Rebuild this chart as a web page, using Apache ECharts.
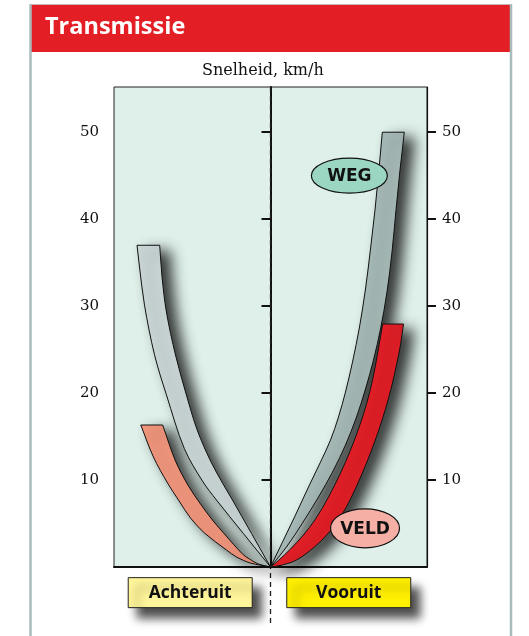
<!DOCTYPE html>
<html>
<head>
<meta charset="utf-8">
<title>Transmissie</title>
<script src="https://cdn.jsdelivr.net/npm/echarts@6/dist/echarts.min.js"></script>
<style>
	html, body { margin: 0; padding: 0; background: #fff; }
	#chart { width: 529px; height: 636px; }
</style>
</head>
<body>
<div id="chart"></div>
<script>
// y = snelheid km/h, x = vrije breedte-as (-100 .. 100), 0 = midden
var yTicks = [10, 20, 30, 40, 50];

// randen van de banden, van de oorsprong naar boven: [x, km/h]
var achteruitWegOuter  = [[0, 0], [-17.3, 3.85], [-34.5, 7.7], [-43.5, 9.9], [-55, 13.6], [-66.5, 19.8], [-74.1, 24.4], [-80.5, 30.1], [-83.7, 34.5], [-85.3, 37]];
var achteruitWegInner  = [[0, 0], [-12.1, 3.85], [-24.3, 7.7], [-30.7, 9.66], [-38.3, 12.19], [-46.6, 15.64], [-53, 19.32], [-60.7, 24.38], [-66.5, 29.32], [-69.3, 33.35], [-70.8, 37]];
var achteruitVeldOuter = [[0, 0], [-12.8, 0.46], [-21.7, 1.15], [-28.1, 1.95], [-42.2, 3.91], [-51.1, 5.63], [-58.8, 7.7], [-65.8, 9.66], [-74.8, 12.65], [-82.9, 16.33]];
var achteruitVeldInner = [[0, 0], [-7.7, 0.34], [-13.4, 0.92], [-17.9, 1.49], [-29.4, 3.79], [-37.1, 5.4], [-44.7, 7.24], [-52.4, 9.31], [-60.7, 12.19], [-68.9, 16.33]];
var vooruitWegInner    = [[0, 0], [7.67, 2.87], [15.97, 5.98], [24.28, 9.2], [31.95, 12.07], [38.34, 14.6], [43.45, 17.25], [47.92, 20.12], [52.4, 23.57], [56.87, 27.6], [60.7, 31.97], [63.9, 36.57], [66.77, 41.05], [69.33, 45.77], [71.44, 50]];
var vooruitWegOuter    = [[0, 0], [10.22, 2.3], [20.45, 5.06], [30.67, 8.05], [39.62, 10.92], [47.92, 14.03], [54.95, 17.25], [60.7, 20.47], [65.81, 23.8], [70.29, 27.37], [74.44, 31.62], [77.64, 36.22], [80.19, 41.05], [82.75, 45.65], [85.5, 50]];
var vooruitVeldInner   = [[0, 0], [5.11, 0.75], [12.78, 2.07], [20.45, 3.56], [28.75, 5.52], [37.06, 8.05], [44.73, 10.81], [51.12, 13.45], [56.87, 16.21], [61.34, 18.74], [65.18, 21.5], [68.37, 24.49], [71.69, 27.94]];
var vooruitVeldOuter   = [[0, 0], [7.67, 0.23], [16.61, 0.8], [28.12, 2.3], [37.06, 3.91], [44.73, 5.75], [51.76, 8.05], [58.15, 10.58], [63.9, 13.11], [69.01, 15.64], [73.48, 18.17], [77.32, 20.7], [80.51, 23.23], [83.07, 25.53], [84.98, 27.94]];

var centerLine = [[0, 55.2], [0, -6.6]];

var ovalLabels = ['WEG', 'VELD'];
var ovalPos    = [[50.4, 45], [60.4, 4.45]];

var boxLabels = ['Achteruit', 'Vooruit'];
var boxPos    = [[-51.3, -2.95], [50, -2.95]];

(function(){

	var chart = echarts.init(document.getElementById('chart'));

	function dist(a, b){
		return Math.sqrt((a[0] - b[0]) * (a[0] - b[0]) + (a[1] - b[1]) * (a[1] - b[1]));
	}

	// vloeiende lijn door de gelezen punten (raaklijnen naar koordelengte)
	function curve(p){
		var d = '';
		for (var i = 0; i < p.length - 1; i++) {
			var p0 = p[i - 1] || p[i], p1 = p[i], p2 = p[i + 1], p3 = p[i + 2] || p[i + 1];
			var d01 = dist(p0, p1), d12 = dist(p1, p2), d23 = dist(p2, p3);
			var k1 = d12 / (d01 + d12) / 3, k2 = d12 / (d12 + d23) / 3;
			d += ' C' + (p1[0] + (p2[0] - p0[0]) * k1) + ',' + (p1[1] + (p2[1] - p0[1]) * k1)
				+ ' ' + (p2[0] - (p3[0] - p1[0]) * k2) + ',' + (p2[1] - (p3[1] - p1[1]) * k2)
				+ ' ' + p2[0] + ',' + p2[1];
		}
		return d;
	}

	function band(outer, inner, color){
		return {
			type: 'custom',
			silent: true,
			data: [[0, 0]],
			renderItem: function(params, api){
				var o = outer.map(function(v){ return api.coord(v); });
				var n = inner.slice().reverse().map(function(v){ return api.coord(v); });
				var d = 'M' + o[0][0] + ',' + o[0][1] + curve(o)
					+ ' L' + n[0][0] + ',' + n[0][1] + curve(n) + ' Z';
				return {
					type: 'path',
					shape: { pathData: d },
					style: {
						fill: color,
						stroke: '#111',
						lineWidth: 1,
						shadowBlur: 14,
						shadowColor: 'rgba(0,0,0,0.78)',
						shadowOffsetX: 10,
						shadowOffsetY: 6
					}
				};
			}
		};
	}

	var ovalStyle = [
		{ rx: 38, ry: 17.5, fill: '#9bd6c2' },
		{ rx: 34.5, ry: 19.5, fill: '#f6afa5' }
	];
	var boxFill = ['#fff59a', '#fff000'];

	function yAxis(pos, lineWidth){
		return {
			type: 'value',
			position: pos,
			min: 0,
			max: 55.2,
			interval: 10,
			axisLine: { show: true, lineStyle: { color: '#111', width: lineWidth } },
			axisTick: { show: true, inside: false, length: 9, customValues: yTicks, lineStyle: { color: '#111', width: 2 } },
			axisLabel: { customValues: yTicks, margin: 15, fontFamily: 'DejaVu Serif', fontSize: 15, color: '#111' },
			splitLine: { show: false }
		};
	}

	chart.setOption({
		animation: false,
		title: {
			text: 'Snelheid, km/h',
			left: 202,
			top: 63,
			padding: 0,
			textStyle: { fontFamily: 'DejaVu Serif', fontSize: 16, fontWeight: 'normal', color: '#111' }
		},
		grid: {
			left: 114,
			right: 102,
			top: 87,
			bottom: 69,
			containLabel: false,
			outerBoundsMode: 'none',
			show: true,
			backgroundColor: '#dff0ea',
			borderColor: '#222',
			borderWidth: 1
		},
		xAxis: {
			type: 'value',
			min: -100,
			max: 100,
			axisLine: { show: true, onZero: false, lineStyle: { color: '#111', width: 2 } },
			axisTick: { show: false },
			axisLabel: { show: false },
			splitLine: { show: false }
		},
		yAxis: [ yAxis('left', 2), yAxis('right', 1.2) ],
		graphic: [
			{ type: 'rect', shape: { x: 31, y: 5, width: 479, height: 47 }, style: { fill: '#e31e25' } },
			{ type: 'line', shape: { x1: 30, y1: 4.5, x2: 511, y2: 4.5 }, style: { stroke: '#c8b4b4', lineWidth: 1 } },
			{ type: 'line', shape: { x1: 30.5, y1: 4, x2: 30.5, y2: 636 }, style: { stroke: '#a9bcbc', lineWidth: 2.5 } },
			{ type: 'line', shape: { x1: 511, y1: 4, x2: 511, y2: 636 }, style: { stroke: '#a9bcbc', lineWidth: 2.5 } },
			{ type: 'text', x: 45, y: 27, style: { text: 'Transmissie', font: 'bold 23.5px "Open Sans"', fill: '#fff', verticalAlign: 'middle' } }
		],
		series: [
			{
				type: 'custom',
				silent: true,
				data: [[0, 0]],
				renderItem: function(params, api){
					var a = api.coord(centerLine[0]), b = api.coord(centerLine[1]);
					return {
						type: 'line',
						shape: { x1: a[0], y1: a[1], x2: b[0], y2: b[1] },
						style: { stroke: '#222', lineWidth: 1.3, lineDash: [5, 4] }
					};
				}
			},
			band(achteruitVeldOuter, achteruitVeldInner, '#f4987e'),
			band(achteruitWegOuter, achteruitWegInner, '#cdd8d8'),
			band(vooruitWegOuter, vooruitWegInner, '#a7bbb8'),
			band(vooruitVeldOuter, vooruitVeldInner, '#e31f27'),
			{
				type: 'custom',
				silent: true,
				data: ovalPos,
				renderItem: function(params, api){
					var c = api.coord([api.value(0), api.value(1)]);
					var s = ovalStyle[params.dataIndex];
					return {
						type: 'group',
						children: [
							{ type: 'ellipse', shape: { cx: c[0], cy: c[1], rx: s.rx, ry: s.ry }, style: { fill: s.fill, stroke: '#111', lineWidth: 1.2 } },
							{ type: 'text', x: c[0], y: c[1] + 1, style: { text: ovalLabels[params.dataIndex], font: 'bold 17px "DejaVu Sans"', fill: '#111', align: 'center', verticalAlign: 'middle' } }
						]
					};
				}
			},
			{
				type: 'custom',
				silent: true,
				data: boxPos,
				renderItem: function(params, api){
					var c = api.coord([api.value(0), api.value(1)]);
					return {
						type: 'group',
						children: [
							{
								type: 'rect',
								shape: { x: c[0] - 62, y: c[1] - 15, width: 124, height: 30 },
								style: { fill: boxFill[params.dataIndex], stroke: '#222', lineWidth: 1, shadowBlur: 10, shadowColor: 'rgba(0,0,0,0.7)', shadowOffsetX: 9, shadowOffsetY: 10 }
							},
							{ type: 'text', x: c[0], y: c[1], style: { text: boxLabels[params.dataIndex], font: 'bold 17.5px "Open Sans"', fill: '#111', align: 'center', verticalAlign: 'middle' } }
						]
					};
				}
			}
		]
	});

})();
</script>
</body>
</html>
